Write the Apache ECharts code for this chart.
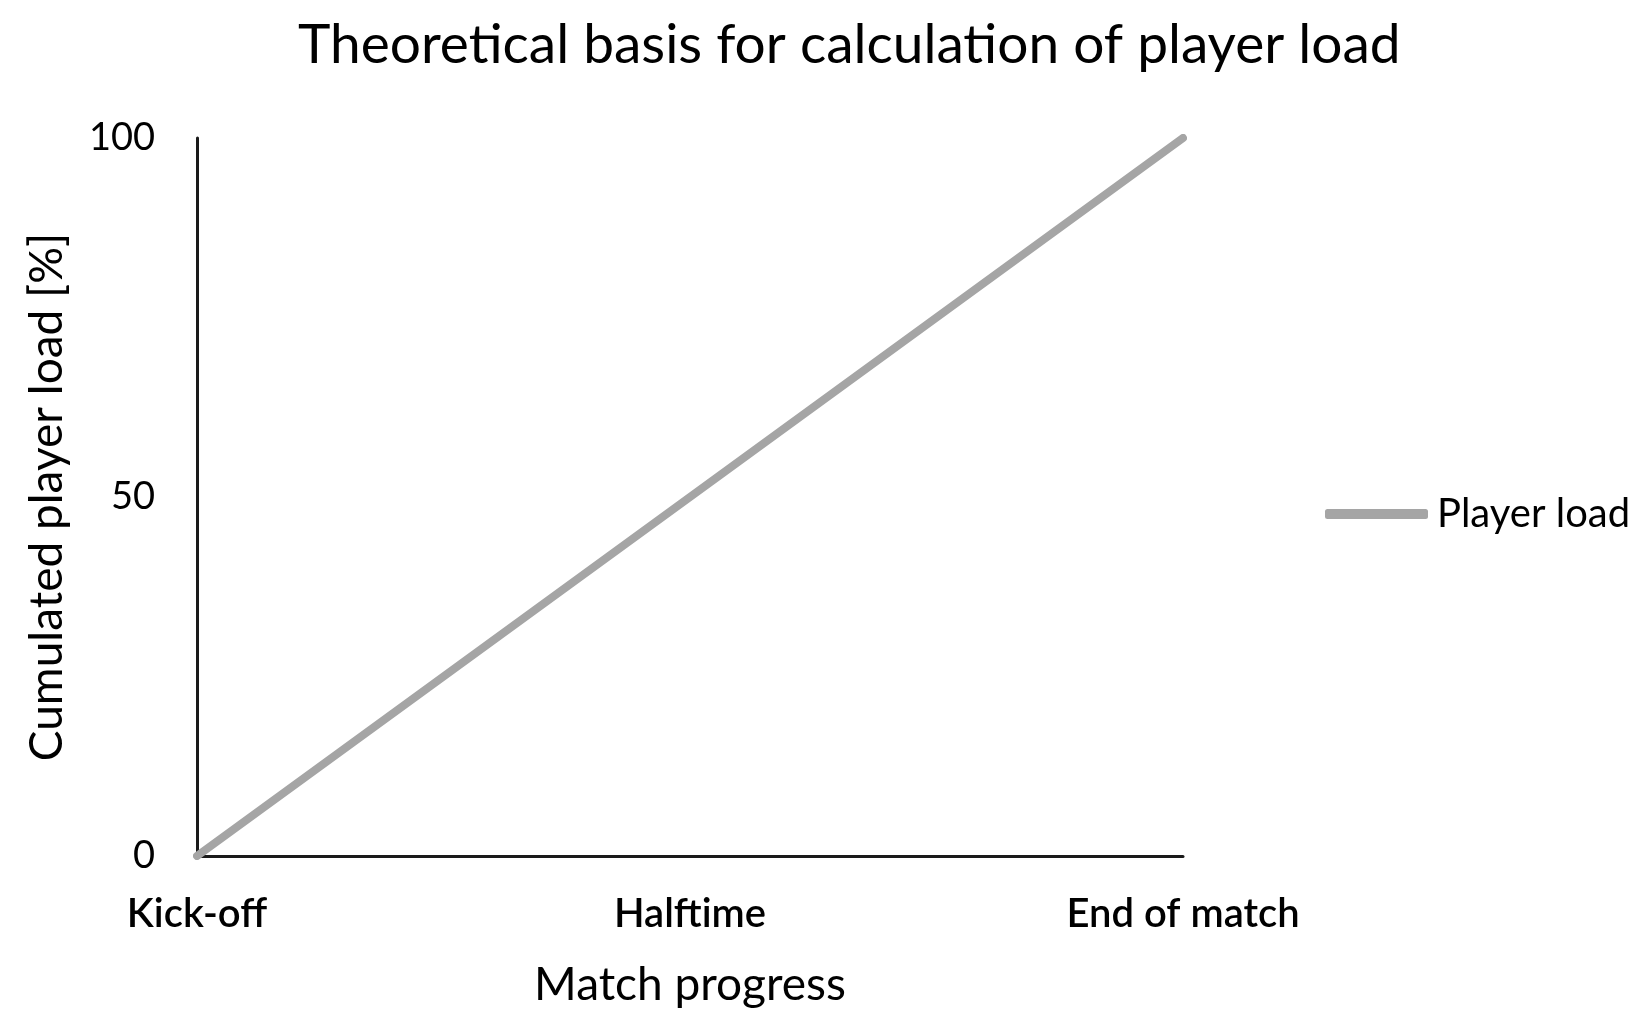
<!DOCTYPE html>
<html>
<head>
<meta charset="utf-8">
<script src="https://cdn.jsdelivr.net/npm/echarts@6/dist/echarts.min.js"></script>
<style>
html,body{margin:0;padding:0;background:#fff;}
#chart{width:1649px;height:1026px;}
</style>
</head>
<body>
<div id="chart"></div>
<script>
const titleText = 'Theoretical basis for calculation of player load';
const categories = ['Kick-off', 'Halftime', 'End of match'];
const seriesName = 'Player load';
const playerLoad = [0, 50, 100];
const yMin = 0, yMax = 100, yInterval = 50;
const xAxisName = 'Match progress';
const yAxisName = 'Cumulated player load [%]';

const FONT = 'Lato';
const chart = echarts.init(document.getElementById('chart'));
chart.setOption({
  backgroundColor: '#ffffff',
  animation: false,
  title: {
    text: titleText,
    left: 293,
    top: 13,
    textStyle: { fontFamily: FONT, fontSize: 55, fontWeight: 'normal', color: '#000' }
  },
  legend: {
    orient: 'vertical',
    left: 1320,
    top: 489,
    icon: 'roundRect',
    itemWidth: 103,
    itemHeight: 10,
    data: [seriesName],
    textStyle: { fontFamily: FONT, fontSize: 40, color: '#000', padding: [0, 0, 0, 4] }
  },
  grid: { left: 197, right: 466, top: 138, bottom: 170, containLabel: false },
  xAxis: {
    type: 'category',
    data: categories,
    boundaryGap: false,
    name: xAxisName,
    nameLocation: 'middle',
    nameGap: 106,
    nameTextStyle: { fontFamily: FONT, fontSize: 46, color: '#000' },
    axisLine: { show: true, lineStyle: { color: '#1a1a1a', width: 3 } },
    axisTick: { show: false },
    axisLabel: { margin: 38, fontFamily: FONT, fontSize: 40, fontWeight: 600, color: '#000' },
    splitLine: { show: false }
  },
  yAxis: {
    type: 'value',
    min: yMin,
    max: yMax,
    interval: yInterval,
    name: yAxisName,
    nameLocation: 'middle',
    nameGap: 127,
    nameTextStyle: { fontFamily: FONT, fontSize: 46, color: '#000' },
    axisLine: { show: true, lineStyle: { color: '#1a1a1a', width: 3 } },
    axisTick: { show: false },
    axisLabel: { margin: 42, fontFamily: FONT, fontSize: 38, color: '#000' },
    splitLine: { show: false }
  },
  series: [{
    name: seriesName,
    type: 'line',
    data: playerLoad,
    symbol: 'none',
    lineStyle: { color: '#a5a5a5', width: 8, cap: 'round' },
    itemStyle: { color: '#a5a5a5' }
  }]
});
</script>
</body>
</html>
